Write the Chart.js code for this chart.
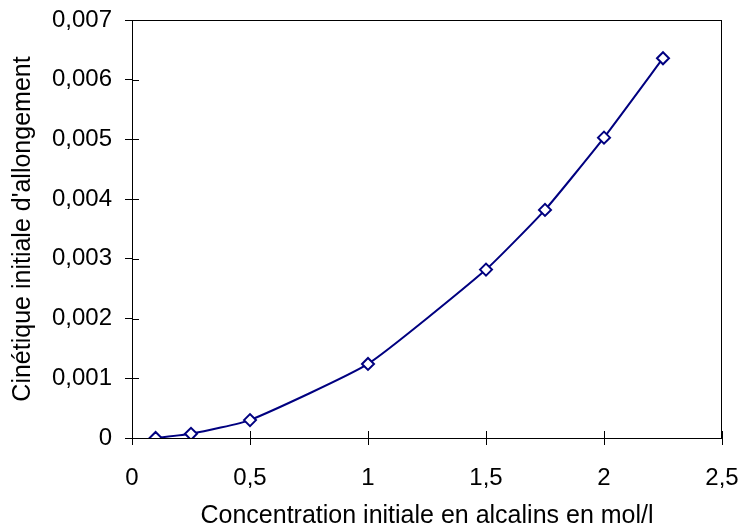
<!DOCTYPE html>
<html>
<head>
<meta charset="utf-8">
<script src="https://cdn.jsdelivr.net/npm/chart.js@4"></script>
<style>
  html, body { margin: 0; padding: 0; background: #fff; }
  #wrap { width: 742px; height: 531px; }
</style>
</head>
<body>
<div id="wrap"><canvas id="lineChart"></canvas></div>
<script>
// data
var concentrations = [0.1, 0.25, 0.5, 1, 1.5, 1.75, 2, 2.25];
var cinetique = [0, 0.00007, 0.0003, 0.00124, 0.00282, 0.00382, 0.00503, 0.00636];
var xTitle = 'Concentration initiale en alcalins en mol/l';
var yTitle = "Cinétique initiale d'allongement";
var xRange = [0, 2.5, 0.5];
var yRange = [0, 0.007, 0.001];

var points = concentrations.map(function (c, i) { return { x: c, y: cinetique[i] }; });

function virgule(v) {
    return String(+v.toFixed(4)).replace('.', ',');
}

// box around the plot + ticks that cross the axis lines
var cadre = {
    id: 'cadre',
    afterDraw: function (chart) {
        var ctx = chart.ctx, a = chart.chartArea;
        ctx.save();
        ctx.strokeStyle = '#000';
        ctx.lineWidth = 1;
        ctx.strokeRect(a.left + 0.5, a.top + 0.5, a.right - a.left - 1, a.bottom - a.top);
        ctx.beginPath();
        chart.scales.x.ticks.forEach(function (t) {
            var px = Math.round(chart.scales.x.getPixelForValue(t.value)) + 0.5;
            ctx.moveTo(px, a.bottom);
            ctx.lineTo(px, a.bottom - 7);
        });
        chart.scales.y.ticks.forEach(function (t) {
            var py = Math.round(chart.scales.y.getPixelForValue(t.value)) + 0.5;
            ctx.moveTo(a.left, py);
            ctx.lineTo(a.left + 7, py);
        });
        ctx.stroke();
        ctx.restore();
    }
};

Chart.defaults.font.family = '"Liberation Sans", Arial, sans-serif';
Chart.defaults.color = '#000';

var ctx = document.getElementById('lineChart').getContext('2d');
var myChart = new Chart(ctx, {
    type: 'line',
    data: {
        datasets: [{
            data: points,
            borderColor: '#000080',
            borderWidth: 2,
            backgroundColor: '#ffffff',
            pointStyle: 'rectRot',
            pointRadius: 6,
            pointBorderWidth: 2,
            pointBackgroundColor: '#ffffff',
            pointBorderColor: '#000080',
            tension: 0.15
        }]
    },
    options: {
        responsive: true,
        maintainAspectRatio: false,
        animation: false,
        layout: {
            padding: { left: 0, right: 20, top: 20, bottom: 0 }
        },
        scales: {
            x: {
                type: 'linear',
                min: xRange[0],
                max: xRange[1],
                afterFit: function (s) {
                    s.height = 93;
                    s.paddingLeft = 0;
                    s.paddingRight = 0;
                },
                ticks: {
                    stepSize: xRange[2],
                    padding: 19,
                    font: { size: 24 },
                    maxRotation: 0,
                    callback: virgule
                },
                grid: { drawOnChartArea: false, tickLength: 7, color: '#000' },
                border: { color: '#000', width: 1 },
                title: {
                    display: true,
                    text: xTitle,
                    font: { size: 25 },
                    padding: { top: 0, bottom: 0 }
                }
            },
            y: {
                min: yRange[0],
                max: yRange[1],
                afterFit: function (s) {
                    s.width = 132;
                    s.paddingTop = 0;
                    s.paddingBottom = 0;
                },
                ticks: {
                    stepSize: yRange[2],
                    padding: 13,
                    font: { size: 24 },
                    callback: virgule
                },
                grid: { drawOnChartArea: false, tickLength: 7, color: '#000' },
                border: { color: '#000', width: 1 },
                title: {
                    display: true,
                    text: yTitle,
                    font: { size: 25 },
                    padding: { top: 8, bottom: 0 }
                }
            }
        },
        plugins: {
            legend: { display: false },
            tooltip: { enabled: false }
        }
    },
    plugins: [cadre]
});
</script>
</body>
</html>
